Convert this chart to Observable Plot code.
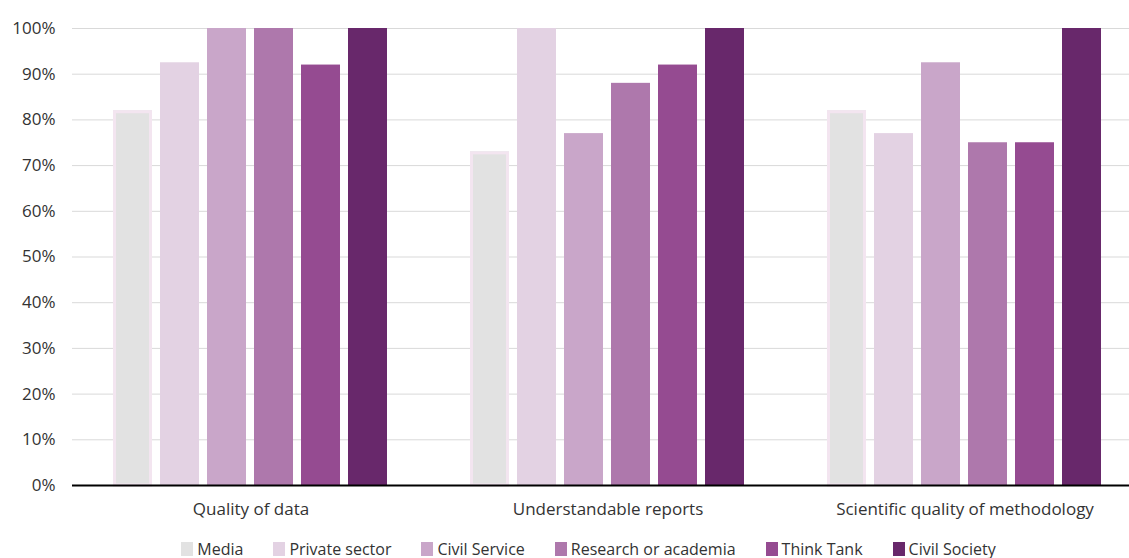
<!DOCTYPE html>
<html>
<head>
<meta charset="utf-8">
<script src="https://cdn.jsdelivr.net/npm/d3@7"></script>
<script src="https://cdn.jsdelivr.net/npm/@observablehq/plot@0.6"></script>
<style>
  body { margin: 0; background: #fff; font-family: "Open Sans", sans-serif; }
  #legend { display: flex; justify-content: center; gap: 30px; padding-top: 9px; padding-left: 48px; font-size: 16px; color: #333; line-height: 20px; }
  #legend span.item { display: inline-flex; align-items: center; }
  #legend span.sw { display: inline-block; width: 12px; height: 14px; margin-right: 4px; }
</style>
</head>
<body>
<div id="chart"></div>
<div id="legend"></div>
<script>
const groups = ["Quality of data", "Understandable reports", "Scientific quality of methodology"];
const series = ["Media", "Private sector", "Civil Service", "Research or academia", "Think Tank", "Civil Society"];
const colors = ["#e2e2e2", "#e3d2e3", "#c9a6c9", "#ae78ac", "#954b91", "#68286b"];
// values per series, in the order of groups (percent)
const media = [82, 73, 82];
const privateSector = [92.5, 100, 77];
const civilService = [100, 77, 92.5];
const research = [100, 88, 75];
const thinkTank = [92, 92, 75];
const civilSociety = [100, 100, 100];
const yTicks = [0, 10, 20, 30, 40, 50, 60, 70, 80, 90, 100];

const valuesBySeries = [media, privateSector, civilService, research, thinkTank, civilSociety];
const data = [];
groups.forEach((g, gi) => series.forEach((s, si) => data.push({group: g, series: s, value: valuesBySeries[si][gi]})));

const chart = Plot.plot({
  width: 1129,
  height: 530,
  marginLeft: 71,
  marginRight: -14,
  marginTop: 28,
  marginBottom: 45,
  style: {fontFamily: "Open Sans", fontSize: "17px", color: "#333", background: "#fff"},
  fx: {domain: groups, padding: 0, label: null, tickSize: 0, tickPadding: 17, axis: "bottom"},
  x: {domain: series, paddingInner: 0.16, paddingOuter: 0.82, axis: null},
  y: {domain: [0, 100], ticks: yTicks, tickFormat: d => d + "%", label: null, tickSize: 0, tickPadding: 17},
  color: {domain: series, range: colors},
  marks: [
    Plot.gridY(yTicks, {stroke: "#d9d9d9", strokeOpacity: 1}),
    Plot.barY(data, {fx: "group", x: "series", y: "value", fill: "series"}),
    Plot.barY(data.filter(d => d.series === "Media"), {fx: "group", x: "series", y: "value", fill: "none", stroke: "#f3e5f0", strokeWidth: 3, insetLeft: 1.5, insetRight: 1.5, insetTop: 1.5}),
    Plot.ruleY([0], {stroke: "#000", strokeWidth: 2})
  ]
});
document.getElementById("chart").appendChild(chart);

const legend = document.getElementById("legend");
series.forEach((s, i) => {
  const item = document.createElement("span");
  item.className = "item";
  const sw = document.createElement("span");
  sw.className = "sw";
  sw.style.background = colors[i];
  item.appendChild(sw);
  item.appendChild(document.createTextNode(s));
  legend.appendChild(item);
});
</script>
</body>
</html>
